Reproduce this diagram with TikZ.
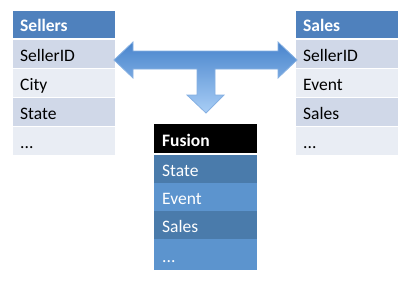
\documentclass[tikz,border=0pt]{standalone}
\usepackage{fontspec}
\setmainfont{Carlito}
\begin{document}
\begin{tikzpicture}[x=1pt,y=-1pt,
  cell/.style={anchor=north west,inner sep=0pt,inner xsep=7pt,text width=88pt,align=left,font=\fontsize{17.5}{18}\selectfont},
  hdr/.style={cell,fill=hdrblue,text=white,font=\fontsize{17.5}{18}\selectfont\bfseries,minimum height=27pt,text height=15pt,text depth=2pt},
  band1/.style={cell,fill=bandA,minimum height=28pt,text height=16pt,text depth=1pt},
  band2/.style={cell,fill=bandB,minimum height=28pt,text height=16pt,text depth=1pt},
  fhdr/.style={cell,inner xsep=8pt,text width=87pt,fill=black,text=white,font=\fontsize{17.5}{18}\selectfont\bfseries,minimum height=29pt,text height=17pt,text depth=1pt},
  fdark/.style={cell,inner xsep=8pt,text width=87pt,fill=fusA,text=white,minimum height=28pt,text height=16pt,text depth=1pt},
  flight/.style={cell,inner xsep=8pt,text width=87pt,fill=fusB,text=white,minimum height=28pt,text height=16pt,text depth=1pt},
  arrowshape/.style={top color=arrTop,bottom color=arrBot,draw=arrLine,line width=0.8pt,line join=miter}
]
\definecolor{hdrblue}{HTML}{4F81BD}
\definecolor{bandA}{HTML}{D0D8E8}
\definecolor{bandB}{HTML}{E9EDF4}
\definecolor{fusA}{HTML}{4A7BAB}
\definecolor{fusB}{HTML}{5C94CE}
\definecolor{arrTop}{HTML}{4884CC}
\definecolor{arrBot}{HTML}{A9CEF6}
\definecolor{arrLine}{HTML}{86B0E2}
\useasboundingbox (0,0) rectangle (411,282);

% Sellers table
\node[hdr]   (selH) at (13,11)  {Sellers};
\node[band1] (sel1) at (13,40)  {SellerID};
\node[band2] (sel2) at (13,69)  {City};
\node[band1] (sel3) at (13,98)  {State};
\node[band2] (sel4) at (13,127) {...};

% Sales table
\node[hdr]   (salH) at (296,11)  {Sales};
\node[band1] (sal1) at (296,40)  {SellerID};
\node[band2] (sal2) at (296,69)  {Event};
\node[band1] (sal3) at (296,98)  {Sales};
\node[band2] (sal4) at (296,127) {...};

% Fusion table
\node[fhdr]   (fusH) at (154,124) {Fusion};
\node[fdark]  (fus1) at (154,155) {State};
\node[flight] (fus2) at (154,183) {Event};
\node[fdark]  (fus3) at (154,211) {Sales};
\node[flight,minimum height=31pt,text height=17pt] (fus4) at (154,239) {...};

% T-shaped arrow
\shade[arrowshape]
  (114,60) -- (133,42) -- (133,51) -- (278,51) -- (278,42) -- (297,60)
  -- (278,78) -- (278,69) -- (215,69) -- (215,95) -- (224,95) -- (206,113)
  -- (187,95) -- (197,95) -- (197,69) -- (133,69) -- (133,78) -- cycle;
\end{tikzpicture}
\end{document}
